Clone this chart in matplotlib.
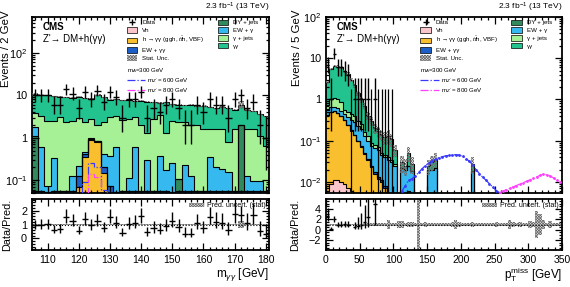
import numpy as np
import matplotlib
matplotlib.use('Agg')
import matplotlib.pyplot as plt
from matplotlib.patches import Patch
from matplotlib.lines import Line2D
from matplotlib.ticker import MultipleLocator, LogLocator, NullFormatter, FuncFormatter

plt.rcParams['font.family'] = ['Liberation Sans', 'DejaVu Sans']
plt.rcParams['mathtext.fontset'] = 'custom'
plt.rcParams['mathtext.rm'] = 'Liberation Sans'
plt.rcParams['mathtext.it'] = 'Liberation Sans:italic'
plt.rcParams['mathtext.bf'] = 'Liberation Sans:bold'
plt.rcParams['hatch.linewidth'] = 0.5

# ---------------- left panel: m_gg, 2 GeV bins from 105 to 181
edges_l = np.arange(105, 182, 2)
vh_l = [0, 0, 0, 0, 0, 0, 0, 0, 0.002, 0.004, 0.003, 0.001, 0, 0, 0, 0, 0, 0, 0,
        0, 0, 0, 0, 0, 0, 0, 0, 0, 0, 0, 0, 0, 0, 0, 0, 0, 0, 0]
hgg_l = [0, 0, 0, 0, 0, 0, 0, 0.07, 0.36, 0.9, 0.78, 0.15, 0.02, 0, 0, 0, 0, 0, 0,
         0, 0, 0, 0, 0, 0, 0, 0, 0, 0, 0, 0, 0, 0, 0, 0, 0, 0, 0]
ewgg_l = [0.055, 0.055, 0.054, 0.055, 0.056, 0.055, 0.055, 0.054, 0.055, 0.055, 0.055, 0.055, 0.055,
          0.054, 0.055, 0.055, 0.055, 0.056, 0.055, 0.055, 0.055, 0.055, 0.054, 0.055, 0.055,
          0.055, 0.055, 0.055, 0.055, 0.055, 0.056, 0.055, 0.055, 0.055, 0.055, 0.055, 0.055, 0.055]
dy_l = [1.05, 0, 0, 0, 0, 0, 0, 0, 0, 0, 0, 0, 0, 0, 0, 0, 0, 0, 0,
        0, 0, 0, 0, 0.05, 0, 0, 0, 0, 0, 0, 0, 0, 0, 1.9, 0, 0, 0, 0]
ewg_l = [0.70, 0.56, 0.02, 0.27, 0.0, 0.0, 0.07, 0.09, 0.04, 0.02, 0.01, 0.20, 0.29,
         0.55, 0.0, 0.06, 0.55, 0.0, 0.25, 0.0, 0.31, 0.12, 0.20, 0.0, 0.17,
         0.07, 0.0, 0.0, 0.30, 0.15, 0.13, 0.10, 0.0, 0.0, 0.07, 0.04, 0.04, 0.0]
gjet_l = [2.0, 2.6, 2.42, 2.18, 2.95, 2.35, 2.38, 2.79, 1.95, 1.83, 1.16, 1.9, 2.64,
          2.6, 2.55, 2.69, 2.4, 1.95, 1.0, 2.65, 3.04, 1.13, 2.25, 2.3, 2.08,
          1.88, 1.95, 1.55, 1.25, 1.4, 1.42, 0.65, 1.55, 0.05, 1.48, 1.51, 1.01, 0.6]
gg_l = [6.7, 7.0, 7.5, 7.1, 6.3, 6.6, 6.3, 6.2, 6.2, 5.6, 8.2, 6.7, 4.8,
        4.8, 5.0, 5.0, 4.2, 5.5, 5.7, 4.1, 3.2, 5.6, 3.7, 3.6, 3.5,
        4.0, 3.5, 4.0, 3.6, 3.4, 3.7, 4.2, 3.0, 4.0, 2.9, 2.6, 2.5, 2.55]
data_l = [10, 10, 10, 6, 6, 14, 11, 5, 12, 8, 13, 7, 12, 9, 3, 8, 8, 12, 3,
          5, 4, 6, 8, 5, 2, 2, 6, 4, 8, 6, 6, 3, 8, 10, 5, 7, 2, 1]
unc_l = [0.06, 0.03, 0.03, 0.03, 0.03, 0.03, 0.03, 0.03, 0.03, 0.03, 0.03, 0.03, 0.03,
         0.03, 0.03, 0.03, 0.03, 0.03, 0.03, 0.03, 0.03, 0.03, 0.03, 0.03, 0.03,
         0.03, 0.03, 0.03, 0.03, 0.03, 0.03, 0.03, 0.03, 0.22, 0.03, 0.03, 0.03, 0.04]
sig_edges_l = [119, 121, 123, 125, 127, 129, 131]
sig600_l = [0.03, 0.09, 0.25, 0.20, 0.06, 0.02]
sig800_l = [0.02, 0.05, 0.14, 0.12, 0.04, 0.01]

# ---------------- right panel: pT miss, 5 GeV bins (prediction up to 225 GeV)
edges_r = np.arange(0, 226, 5)
vh_r = [0.006, 0.009, 0.011, 0.011, 0.010, 0.009, 0.007, 0.006, 0.005, 0.004, 0.003, 0.002, 0.001,
        0, 0, 0, 0, 0, 0, 0, 0, 0, 0, 0, 0, 0, 0, 0, 0, 0, 0, 0, 0, 0, 0, 0, 0, 0, 0, 0, 0, 0, 0, 0, 0]
hgg_r = [0.42, 0.49, 0.51, 0.46, 0.38, 0.31, 0.23, 0.17, 0.13, 0.095, 0.068, 0.047, 0.033, 0.023,
         0.016, 0.012, 0.010, 0.007, 0.004, 0.003, 0, 0, 0, 0, 0, 0, 0, 0, 0, 0, 0, 0, 0, 0,
         0, 0, 0, 0, 0, 0, 0, 0, 0, 0, 0]
ewgg_r = [0.003, 0.004, 0.004, 0.004, 0.004, 0.003, 0.003, 0.003, 0.002, 0.002, 0.002, 0.002, 0.002,
          0.001, 0.001, 0.001, 0.001, 0.001, 0.001, 0, 0, 0, 0, 0, 0, 0, 0, 0, 0, 0, 0, 0, 0,
          0, 0, 0, 0, 0, 0, 0, 0, 0, 0, 0, 0]
dy_r = [0, 0, 0, 0, 0, 0, 0, 0, 0, 0, 0, 0, 0, 0, 0, 0, 0, 0, 0, 0, 0, 0, 0, 0, 0.006,
        0, 0, 0, 0, 0, 0, 0, 0.004, 0, 0, 0, 0, 0, 0, 0, 0, 0, 0, 0, 0]
ewg_r = [0.12, 0.14, 0.135, 0.145, 0.126, 0.128, 0.14, 0.141, 0.143, 0.129, 0.117, 0.079, 0.064,
         0.051, 0.048, 0.047, 0.034, 0.032, 0.030, 0.027, 0.024, 0, 0.022, 0.020, 0.019, 0.018,
         0, 0, 0, 0, 0.020, 0.020, 0.018, 0, 0, 0, 0, 0, 0, 0, 0, 0, 0, 0.018, 0]
gjet_r = [0.2, 0.41, 0.44, 0.38, 0.33, 0.10, 0.12, 0.13, 0.12, 0.07, 0.06, 0.03, 0.03, 0.015,
          0.015, 0.01, 0.005, 0.005, 0.005, 0.005, 0.003, 0, 0, 0, 0, 0, 0, 0, 0, 0, 0, 0, 0,
          0, 0, 0, 0, 0, 0, 0, 0, 0, 0, 0, 0]
gg_r = [1.85, 4.45, 5.4, 5.3, 5.15, 4.25, 3.7, 2.55, 1.8, 1.1, 0.75, 0.54, 0.27, 0.21,
        0.12, 0.10, 0.09, 0.075, 0.09, 0.075, 0.032, 0, 0.008, 0.005, 0.025, 0.010,
        0, 0, 0, 0, 0.005, 0.010, 0.015, 0, 0, 0, 0, 0, 0, 0, 0, 0, 0, 0.010, 0]
unc_r = [0.1, 0.08, 0.07, 0.07, 0.08, 0.09, 0.1, 0.12, 0.13, 0.15, 0.17, 0.2, 0.22, 0.25,
         0.28, 0.3, 0.3, 0.35, 0.4, 0.35, 0.3, 0, 0.45, 0.45, 0.4, 0.45, 0, 0, 0, 0,
         0.4, 0.4, 0.4, 0, 0, 0, 0, 0, 0, 0, 0, 0, 0, 0.45, 0]
data_r = [7, 1, 13, 6, 6, 5, 4, 0, 1, 1, 1, 1, 1, 0, 1, 0, 0, 0, 0, 0]
edges_band_r = np.arange(0, 351, 5)
band_r = [0.1, 0.08, 0.07, 0.07, 0.08, 0.09, 0.1, 0.12, 0.13, 0.15, 0.17, 0.2, 0.22, 0.25,
          0.28, 0.3, 0.3, 0.35, 0.8, 0.35, 0.3, 0.6, 0.6, 0.3, 0.5, 0.5, 0.3, 20, 0.2, 0.4,
          0.3, 0.3, 0.35, 0.3, 0.2, 0.2, 0.2, 0.5, 0.9, 0.4, 0.2, 0.3, 0.3, 0.4, 0.2, 0.2,
          0.3, 0.2, 0.2, 0.3, 0.5, 0.2, 0.2, 0.2, 0.8, 0.5, 0.2, 0.5, 0.3, 0.2, 0.6, 0.4,
          2.5, 2.0, 0.8, 0.2, 0.6, 0.3, 0.2, 0.2]
sig600_pt = np.arange(112.5, 260, 5)
sig600_r = [0.006, 0.008, 0.011, 0.012, 0.014, 0.017, 0.021, 0.025, 0.029, 0.033, 0.036, 0.039,
            0.041, 0.043, 0.044, 0.045, 0.046, 0.045, 0.042, 0.037, 0.032, 0.026, 0.020, 0.016,
            0.013, 0.011, 0.009, 0.0075, 0.0062, 0.0055]
sig800_pt = np.arange(257.5, 350, 5)
sig800_r = [0.0055, 0.006, 0.0065, 0.007, 0.0076, 0.0082, 0.0089, 0.0096, 0.0104, 0.0113,
            0.0122, 0.0133, 0.0145, 0.0155, 0.015, 0.014, 0.0125, 0.011, 0.0098]

labels = ['Vh', 'h → γγ (ggh, $t\\bar{t}$h, VBF)', 'EW + γγ', 'DY + jets', 'EW + γ', 'γ + jets', 'γγ']
colors = ['#fbc6cb', '#f9bf2e', '#1c5fc9', '#318a5b', '#36b9ef', '#a6f196', '#22c38f']
c600 = '#3a3aff'
c800 = '#ff40ff'
hatch_col = '#6a6a6a'
hatch_face = '#e4e4e4'
HATCH = 'x' * 12


def poisson_err(n):
    n = np.asarray(n, dtype=float)
    lo = np.where(n > 0, n - n * (1 - 1 / (9 * np.maximum(n, 1)) - 1 / (3 * np.sqrt(np.maximum(n, 1)))) ** 3, 0)
    hi = (n + 1) * (1 - 1 / (9 * (n + 1)) + 1 / (3 * np.sqrt(n + 1))) ** 3 - n
    return lo, hi


def style(ax, fs=7.8):
    ax.tick_params(which='both', direction='in', top=True, right=True, width=0.9, labelsize=fs)
    ax.tick_params(which='major', length=5)
    ax.tick_params(which='minor', length=2.5)
    for s in ax.spines.values():
        s.set_linewidth(1.3)


def logfmt(v, pos):
    if abs(v - 1) < 1e-9:
        return '1'
    if abs(v - 10) < 1e-9:
        return '10'
    return '$10^{%d}$' % round(np.log10(v))


def panel(ax, axr, edges, comps, data, nbins_data, unc, floor):
    cen = 0.5 * (edges[1:] + edges[:-1])
    w = np.diff(edges)
    base = np.full(len(cen), floor)
    for vals, c in zip(comps, colors):
        top = base + np.asarray(vals)
        ax.stairs(top, edges, baseline=base, fill=True, color=c, lw=0, zorder=1)
        base = top
    base = np.full(len(cen), floor)
    for vals in comps:
        top = base + np.asarray(vals)
        ax.stairs(top, edges, baseline=None, color='k', lw=0.8, zorder=2)
        base = top
    total = base - floor
    unc = np.asarray(unc)
    m = total > 0
    ax.bar(cen[m], 2 * unc[m] * total[m], bottom=total[m] * (1 - unc[m]), width=w[m],
           color='none', edgecolor=hatch_col, hatch=HATCH, lw=0, zorder=3)
    n = np.asarray(data, dtype=float)
    dc = cen[:nbins_data]
    dw = w[:nbins_data] / 2
    lo, hi = poisson_err(n)
    nz = n > 0
    h = ax.errorbar(dc[nz], n[nz], xerr=dw[nz], yerr=[lo[nz], hi[nz]], fmt='none',
                    ecolor='k', elinewidth=1.0, capsize=0, zorder=6)
    if (~nz).any():
        ax.errorbar(dc[~nz], np.full((~nz).sum(), floor * 1.01), yerr=[np.zeros((~nz).sum()), hi[~nz]],
                    fmt='none', ecolor='k', elinewidth=0.9, capsize=0, zorder=6)
    # ratio
    tot_d = total[:nbins_data]
    r = n / tot_d
    axr.errorbar(dc[nz], r[nz], xerr=dw[nz], yerr=[lo[nz] / tot_d[nz], hi[nz] / tot_d[nz]],
                 fmt='none', ecolor='k', elinewidth=1.0, capsize=0, zorder=6)
    return h


def legends(ax, h_data, l600, l800):
    kw = dict(frameon=False, fontsize=4.4, handlelength=1.7, handleheight=1.0, labelspacing=0.32,
              borderaxespad=0, borderpad=0, handletextpad=0.8, loc='upper left')
    patches = [Patch(facecolor=c, edgecolor='k', lw=0.5) for c in colors]
    p_unc = Patch(facecolor=hatch_face, edgecolor=hatch_col, hatch=HATCH, lw=0)
    leg1 = ax.legend([h_data, patches[0], patches[1], patches[2], p_unc],
                     ['Data', labels[0], labels[1], labels[2], 'Stat. Unc.'],
                     bbox_to_anchor=(0.40, 0.985), **kw)
    ax.add_artist(leg1)
    leg2 = ax.legend(patches[3:], labels[3:], bbox_to_anchor=(0.785, 0.985), **kw)
    ax.add_artist(leg2)
    kw3 = dict(kw)
    kw3.update(handlelength=3.0, handletextpad=0.3, labelspacing=0.15)
    ax.legend([l600, l800], ["m$_{Z'}$ = 600 GeV", "m$_{Z'}$ = 800 GeV"],
              title='m$_{A}$=300 GeV', title_fontsize=4.4, alignment='left',
              bbox_to_anchor=(0.40, 0.72), **kw3)
    ax.text(0.045, 0.945, 'CMS', transform=ax.transAxes, fontsize=7, fontweight='bold', va='center')
    ax.text(0.045, 0.875, "Z'→ DM+h(γγ)", transform=ax.transAxes, fontsize=7, va='center')
    ax.text(1.0, 1.015, '2.3 fb$^{-1}$ (13 TeV)', transform=ax.transAxes, fontsize=6,
            ha='right', va='bottom')


def ratio_band(axr, edges, rel):
    cen = 0.5 * (edges[1:] + edges[:-1])
    w = np.diff(edges)
    rel = np.asarray(rel)
    axr.bar(cen, 2 * rel, bottom=1 - rel, width=w, color=hatch_face, edgecolor=hatch_col,
            hatch=HATCH, lw=0, zorder=2)
    axr.axhline(1, color='k', ls=':', lw=0.8, zorder=3)
    p_unc = Patch(facecolor=hatch_face, edgecolor=hatch_col, hatch=HATCH, lw=0)
    axr.legend([p_unc], ['Pred. uncert. (stat)'], loc='upper right', frameon=False, fontsize=5,
               handlelength=2.2, handleheight=0.7, borderaxespad=0.3, borderpad=0.2, handletextpad=0.4)


fig = plt.figure(figsize=(5.70, 2.87), dpi=100)
ax_l = fig.add_axes([0.0561, 0.3275, 0.4158, 0.6132])
axr_l = fig.add_axes([0.0561, 0.1289, 0.4158, 0.1777])
ax_r = fig.add_axes([0.5719, 0.3275, 0.4140, 0.6132])
axr_r = fig.add_axes([0.5719, 0.1289, 0.4140, 0.1777])

# left
floor_l = 1e-4
h_l = panel(ax_l, axr_l, edges_l, [vh_l, hgg_l, ewgg_l, dy_l, ewg_l, gjet_l, gg_l],
            data_l, len(data_l), unc_l, floor_l)
ax_l.stairs(sig600_l, sig_edges_l, baseline=None, color=c600, ls='-.', lw=0.9, zorder=4)
ax_l.stairs(sig800_l, sig_edges_l, baseline=None, color=c800, ls='-.', lw=0.9, zorder=4)
ax_l.set_yscale('log')
ax_l.set_xlim(105, 181)
ax_l.set_ylim(0.05, 700)
ratio_band(axr_l, edges_l, unc_l)
axr_l.set_xlim(105, 181)
axr_l.set_ylim(-0.85, 2.85)

# right
floor_r = 1e-5
h_r = panel(ax_r, axr_r, edges_r, [vh_r, hgg_r, ewgg_r, dy_r, ewg_r, gjet_r, gg_r],
            data_r, len(data_r), unc_r, floor_r)
ax_r.plot(sig600_pt, sig600_r, color=c600, ls='-.', lw=0.9, marker='.', ms=2, zorder=4)
ax_r.plot(sig800_pt, sig800_r, color=c800, ls='-.', lw=0.9, marker='.', ms=2, zorder=4)
ax_r.set_yscale('log')
ax_r.set_xlim(0, 350)
ax_r.set_ylim(0.0054, 100)
ratio_band(axr_r, edges_band_r, band_r)
axr_r.set_xlim(0, 350)
axr_r.set_ylim(-3.9, 5.9)

sig_l600 = Line2D([], [], color=c600, ls='-.', lw=0.9)
sig_l800 = Line2D([], [], color=c800, ls='-.', lw=0.9)
legends(ax_l, h_l, sig_l600, sig_l800)
legends(ax_r, h_r, sig_l600, sig_l800)

for ax in (ax_l, ax_r):
    style(ax)
    ax.yaxis.set_major_locator(LogLocator(base=10, numticks=10))
    ax.yaxis.set_minor_locator(LogLocator(base=10, subs=np.arange(2, 10), numticks=20))
    ax.yaxis.set_minor_formatter(NullFormatter())
    ax.yaxis.set_major_formatter(FuncFormatter(logfmt))
    ax.tick_params(labelbottom=False)
for axr in (axr_l, axr_r):
    style(axr)
    axr.tick_params(axis='x', labelsize=7.5)

ax_l.xaxis.set_major_locator(MultipleLocator(10))
ax_l.xaxis.set_minor_locator(MultipleLocator(2))
axr_l.xaxis.set_major_locator(MultipleLocator(10))
axr_l.xaxis.set_minor_locator(MultipleLocator(2))
axr_l.yaxis.set_major_locator(MultipleLocator(1))
axr_l.yaxis.set_minor_locator(MultipleLocator(0.2))
ax_r.xaxis.set_major_locator(MultipleLocator(50))
ax_r.xaxis.set_minor_locator(MultipleLocator(10))
axr_r.xaxis.set_major_locator(MultipleLocator(50))
axr_r.xaxis.set_minor_locator(MultipleLocator(10))
axr_r.yaxis.set_major_locator(MultipleLocator(2))
axr_r.yaxis.set_minor_locator(MultipleLocator(0.5))

ax_l.set_ylabel('Events / 2 GeV', fontsize=8.2, loc='top')
ax_l.yaxis.set_label_coords(-0.09, 1.04)
ax_r.set_ylabel('Events / 5 GeV', fontsize=8.2, loc='top')
ax_r.yaxis.set_label_coords(-0.1, 1.04)
axr_l.set_ylabel('Data/Pred.', fontsize=7.8)
axr_l.yaxis.set_label_coords(-0.085, 0.5)
axr_r.set_ylabel('Data/Pred.', fontsize=7.8)
axr_r.yaxis.set_label_coords(-0.11, 0.5)
axr_l.set_xlabel('m$_{\\gamma\\gamma}$ [GeV]', fontsize=8.5, loc='right', labelpad=1)
axr_r.set_xlabel('p$_{\\rm T}^{\\rm miss}$ [GeV]', fontsize=8.5, loc='right', labelpad=0)

fig.savefig('out.png', dpi=100)
